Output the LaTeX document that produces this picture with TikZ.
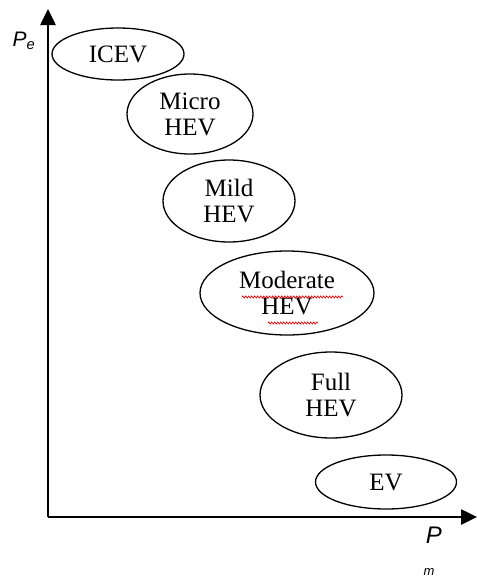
\documentclass[tikz,border=0pt]{standalone}
\usepackage{fontspec}
\setmainfont{Liberation Serif}
\setsansfont{Liberation Sans}
\usetikzlibrary{shapes.geometric,arrows.meta,decorations.pathmorphing,calc}
\begin{document}
\begin{tikzpicture}[x=1pt,y=-1pt,
  cls/.style={draw, line width=1.3pt, ellipse, inner sep=0pt, align=center,
    font=\fontsize{25}{26}\selectfont},
  axis/.style={line width=2.6pt, -{Triangle[length=16pt,width=15pt]}},
  lab/.style={font=\sffamily\itshape, inner sep=0pt},
  spell/.style={draw=red, line width=0.6pt, decorate,
    decoration={zigzag, amplitude=1.1pt, segment length=3pt}}]
\useasboundingbox (0,0) rectangle (477,579);
\coordinate (o) at (48,517);
\coordinate (ytop) at (48,9);
\coordinate (xend) at (477,517);
\draw[axis] (o) -- (ytop);
\draw[axis] (o) -- (xend);
\node[lab, font=\fontsize{21}{22}\sffamily\itshape] (pe) at (24,41) {P\textsubscript{e}};
\node[lab, font=\fontsize{24}{26}\sffamily\itshape] (pm) at (434,535) {P};
\node[lab, font=\fontsize{13}{14}\sffamily\itshape] (pmsub) at (429,572) {m};
\node[cls, minimum width=132pt, minimum height=52pt] (icev) at (118,54) {ICEV};
\node[cls, minimum width=126pt, minimum height=80pt] (micro) at (190,114) {Micro\\HEV};
\node[cls, minimum width=132pt, minimum height=82pt] (mild) at (229,201) {Mild\\HEV};
\node[cls, minimum width=174pt, minimum height=84pt] (mod) at (287,293) {Moderate\\HEV};
\node[cls, minimum width=142pt, minimum height=86pt] (full) at (331,395) {Full\\HEV};
\node[cls, minimum width=141pt, minimum height=54pt] (ev) at (386,482) {EV};
\draw[spell] ($(mod.center)+(-45,4)$) -- ($(mod.center)+(56,4)$);
\draw[spell] ($(mod.center)+(-19,30)$) -- ($(mod.center)+(31,30)$);
\end{tikzpicture}
\end{document}
